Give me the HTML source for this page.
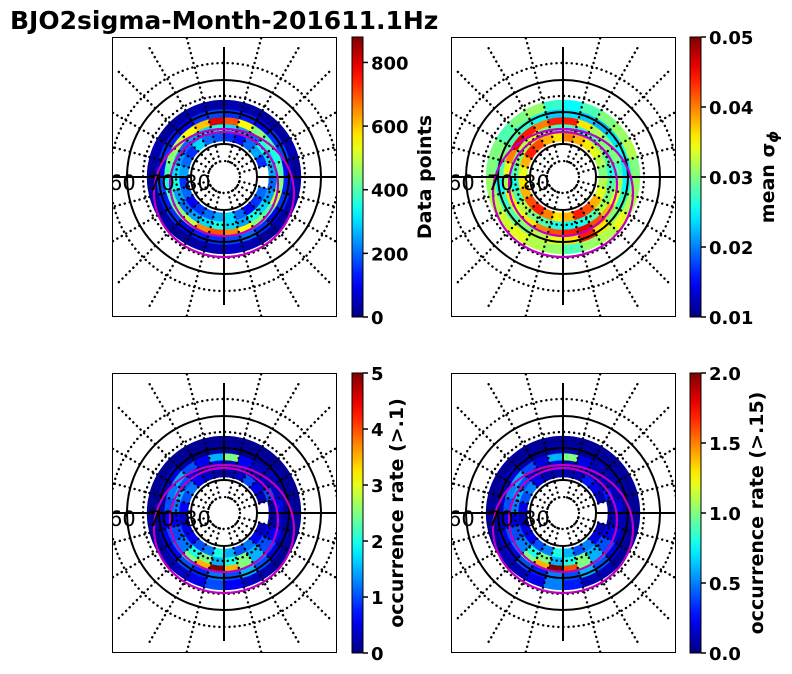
<!DOCTYPE html>
<html><head><meta charset="utf-8">
<style>
html,body{margin:0;padding:0;background:#fff;}
svg{display:block;font-family:"DejaVu Sans","Liberation Sans",sans-serif;}
</style></head>
<body>
<svg id="fig" width="792" height="674" viewBox="0 0 792 674">
<text x="10" y="29" font-size="25" font-weight="bold">BJO2sigma-Month-201611.1Hz</text>
</svg>
<script>
const ringEdges=[36,45,53,60,68,77];
const p1Ring0=[150,120,200,250,150,-1,-1,200,150,100,200,300,250,200,150,100,200,150,250,200,150,300,200,180];
const p1Ring1=[300,250,200,350,300,250,200,250,300,350,250,300,350,300,250,200,250,350,300,250,200,250,300,350];
const p1Ring2=[700,550,450,400,350,400,450,500,400,450,550,650,700,650,500,450,400,350,400,450,500,550,600,800];
const p1Ring3=[150,130,100,150,170,100,130,150,100,150,200,170,150,130,100,150,130,170,100,150,130,100,150,170];
const p1Ring4=[40,30,20,30,40,20,30,40,30,20,40,60,40,30,20,30,40,20,30,40,20,30,40,30];
const p2Ring0=[0.040,0.038,0.036,0.034,0.032,0.030,0.032,0.034,0.038,0.042,0.044,0.038,0.036,0.040,0.044,0.042,0.038,0.036,0.034,0.038,0.044,0.042,0.038,0.036];
const p2Ring1=[0.028,0.026,0.028,0.030,0.028,0.026,0.028,0.030,0.032,0.028,0.026,0.025,0.026,0.028,0.030,0.032,0.028,0.026,0.028,0.030,0.032,0.034,0.030,0.028];
const p2Ring2=[0.044,0.036,0.032,0.030,0.030,0.028,0.032,0.034,0.038,0.042,0.046,0.044,0.042,0.040,0.036,0.034,0.036,0.032,0.034,0.040,0.046,0.044,0.040,0.044];
const p2Ring3=[0.024,0.023,0.022,0.024,0.025,0.024,0.025,0.027,0.030,0.036,0.044,0.036,0.034,0.032,0.030,0.028,0.027,0.025,0.028,0.030,0.028,0.027,0.025,0.023];
const p2Ring4=[0.025,0.028,0.030,0.031,0.032,0.030,0.031,0.032,0.034,0.032,0.031,0.028,0.031,0.032,0.034,0.033,0.032,0.031,0.030,0.030,0.028,0.030,0.031,0.027];
const p3Ring0=[0.2,0.3,1.0,0.5,0.2,-1,-1,0.3,0.6,1.2,1.0,1.5,2.0,1.2,1.0,0.6,0.5,0.3,0.6,1.0,1.2,0.6,0.3,0.2];
const p3Ring1=[0.3,0.6,0.2,0.3,1.0,0.3,0.2,0.5,1.0,1.5,2.5,2.0,1.5,2.5,2.0,1.2,1.0,0.6,1.2,1.5,1.0,0.6,0.3,0.5];
const p3Ring2=[2.5,0.6,0.3,0.2,0.3,0.5,0.3,0.6,1.0,1.5,2.5,3.5,5.0,3.5,2.5,1.2,1.0,0.6,1.0,1.2,1.5,1.0,0.6,1.5];
const p3Ring3=[0.2,0.1,0.2,0.3,0.2,0.1,0.2,0.3,0.5,1.0,1.5,1.0,1.2,0.8,1.0,0.6,0.5,0.3,0.2,0.3,0.5,0.2,0.1,0.2];
const p3Ring4=[0.1,0.1,0.1,0.1,0.1,0.1,0.1,0.1,0.1,0.2,0.3,0.6,1.0,0.5,0.3,0.2,0.1,0.1,0.1,0.1,0.1,0.1,0.1,0.1];
const p4Ring0=[0.1,0.1,0.3,0.2,0.1,-1,-1,0.1,0.2,0.5,0.4,0.6,0.8,0.5,0.4,0.2,0.2,0.1,0.2,0.4,0.5,0.2,0.1,0.1];
const p4Ring1=[0.1,0.2,0.1,0.1,0.3,0.1,0.1,0.2,0.4,0.6,1.0,0.8,0.6,1.0,0.8,0.5,0.4,0.2,0.5,0.6,0.4,0.2,0.1,0.2];
const p4Ring2=[1.0,0.2,0.1,0.1,0.1,0.2,0.1,0.2,0.4,0.6,1.0,1.6,2.0,1.4,1.0,0.5,0.4,0.2,0.4,0.5,0.6,0.4,0.2,0.6];
const p4Ring3=[0.1,0.05,0.1,0.1,0.1,0.05,0.1,0.1,0.2,0.4,0.6,0.4,0.5,0.3,0.4,0.2,0.2,0.1,0.1,0.1,0.2,0.1,0.05,0.1];
const p4Ring4=[0.05,0.05,0.05,0.05,0.05,0.05,0.05,0.05,0.05,0.1,0.1,0.3,0.5,0.2,0.1,0.1,0.05,0.05,0.05,0.05,0.05,0.05,0.05,0.05];
const cb1Ticks=[0,200,400,600,800];
const cb2Ticks=[0.01,0.02,0.03,0.04,0.05];
const cb3Ticks=[0,1,2,3,4,5];
const cb4Ticks=[0.0,0.5,1.0,1.5,2.0];
const cb1Labels=["0","200","400","600","800"];
const cb2Labels=["0.01","0.02","0.03","0.04","0.05"];
const cb3Labels=["0","1","2","3","4","5"];
const cb4Labels=["0.0","0.5","1.0","1.5","2.0"];

const NS="http://www.w3.org/2000/svg";
const fig=document.getElementById('fig');
function el(tag,attrs,parent){const e=document.createElementNS(NS,tag);for(const k in attrs)e.setAttribute(k,attrs[k]);(parent||fig).appendChild(e);return e;}
function jet(t){t=Math.max(0,Math.min(1,t));
  const r=Math.max(0,Math.min(1,1.5-Math.abs(4*t-3)));
  const g=Math.max(0,Math.min(1,1.5-Math.abs(4*t-2)));
  const b=Math.max(0,Math.min(1,1.5-Math.abs(4*t-1)));
  return `rgb(${Math.round(r*255)},${Math.round(g*255)},${Math.round(b*255)})`;}

const panels=[
 {x:112,y:37,rings:[p1Ring0,p1Ring1,p1Ring2,p1Ring3,p1Ring4],vmin:0,vmax:880,ticks:cb1Ticks,labels:cb1Labels,cbx:352,label:"Data points",lx:431,key:'p1'},
 {x:451,y:37,rings:[p2Ring0,p2Ring1,p2Ring2,p2Ring3,p2Ring4],vmin:0.01,vmax:0.05,ticks:cb2Ticks,labels:cb2Labels,cbx:690,label:"mean σ",sub:"ϕ",lx:774,key:'p2'},
 {x:112,y:373,rings:[p3Ring0,p3Ring1,p3Ring2,p3Ring3,p3Ring4],vmin:0,vmax:5,ticks:cb3Ticks,labels:cb3Labels,cbx:352,label:"occurrence rate (>.1)",lx:403,key:'p3'},
 {x:451,y:373,rings:[p4Ring0,p4Ring1,p4Ring2,p4Ring3,p4Ring4],vmin:0,vmax:2,ticks:cb4Ticks,labels:cb4Labels,cbx:690,label:"occurrence rate (>.15)",lx:763,key:'p4'}
];
const W=225,H=280;
function pt(cx,cy,r,a){return [cx+r*Math.sin(a),cy-r*Math.cos(a)];}
panels.forEach((p,pi)=>{
  const g=el('g',{});
  
  
  const cid='clip'+pi;
  const cp=el('clipPath',{id:cid},g);
  el('rect',{x:p.x,y:p.y,width:W,height:H},cp);
  const inner=el('g',{'clip-path':`url(#${cid})`},g);
  const cx=p.x+112,cy=p.y+140;
  const n=24;
  p.rings.forEach((ring,ri)=>{
    ring.forEach((v,si)=>{
      if(v<0)return;
      const r0=ringEdges[ri],r1=ringEdges[ri+1];
      const a0=si*2*Math.PI/n,a1=(si+1)*2*Math.PI/n;
      const A=pt(cx,cy,r0,a0),B=pt(cx,cy,r1,a0),C=pt(cx,cy,r1,a1),D=pt(cx,cy,r0,a1);
      const d=`M${A}L${B}A${r1},${r1} 0 0 1 ${C}L${D}A${r0},${r0} 0 0 0 ${A}Z`;
      const col=jet((v-p.vmin)/(p.vmax-p.vmin));
      const c=el('path',{d:d,fill:col,stroke:col,'stroke-width':0.5},inner);
      
      
    });
  });
  [16,48,81,114].forEach(r=>{const c=el('circle',{cx:cx,cy:cy,r:r,fill:'none',stroke:'#000','stroke-width':2.4,'stroke-dasharray':'0.1 5','stroke-linecap':'round'},inner);
    });
  for(let k=0;k<24;k++){if(k%6===0)continue;const a=k*Math.PI/12;const A=pt(cx,cy,16,a),B=pt(cx,cy,150,a);
    const l=el('line',{x1:A[0],y1:A[1],x2:B[0],y2:B[1],stroke:'#000','stroke-width':2.4,'stroke-dasharray':'0.1 5','stroke-linecap':'round'},inner);
    }
  [33,65,97].forEach(r=>{const c=el('circle',{cx:cx,cy:cy,r:r,fill:'none',stroke:'#000','stroke-width':2},inner);
    });
  let l=el('line',{x1:cx,y1:p.y+10,x2:cx,y2:cy-33,stroke:'#000','stroke-width':2},inner);
  
  l=el('line',{x1:cx,y1:cy+33,x2:cx,y2:p.y+H-12,stroke:'#000','stroke-width':2},inner);
  
  l=el('line',{x1:p.x,y1:cy,x2:cx-33,y2:cy,stroke:'#000','stroke-width':2},inner);
  
  l=el('line',{x1:cx+33,y1:cy,x2:p.x+W,y2:cy,stroke:'#000','stroke-width':2},inner);
  
  let m=el('ellipse',{cx:cx,cy:cy+16,rx:70,ry:64,fill:'none',stroke:'#c000c0','stroke-width':2.2},inner);
  
  m=el('ellipse',{cx:cx,cy:cy+7,rx:54,ry:52,fill:'none',stroke:'#c000c0','stroke-width':2.2},inner);
  
  [["60",p.x-3],["70",p.x+36],["80",p.x+72]].forEach(([t,x])=>{const tx=el('text',{x:x,y:cy+13,'font-size':21},inner);tx.textContent=t;
    });
  const fr=el('rect',{x:p.x+0.5,y:p.y+0.5,width:W-1,height:H-1,fill:'none',stroke:'#000','stroke-width':1},g);
  
  const cg=el('g',{});
  
  
  const gid='grad'+pi;
  const lg=el('linearGradient',{id:gid,x1:0,y1:1,x2:0,y2:0},cg);
  for(let i=0;i<=20;i++)el('stop',{offset:i/20,'stop-color':jet(i/20)},lg);
  el('rect',{x:p.cbx,y:p.y,width:11,height:H,fill:`url(#${gid})`,stroke:'#000','stroke-width':1},cg);
  p.ticks.forEach((t,i)=>{
    const yy=p.y+H-(t-p.vmin)/(p.vmax-p.vmin)*H;
    el('line',{x1:p.cbx+11,y1:yy,x2:p.cbx+16,y2:yy,stroke:'#000','stroke-width':1.5},cg);
    const tx=el('text',{x:p.cbx+19,y:yy+7,'font-size':18,'font-weight':'bold'},cg);
    tx.textContent=p.labels[i];
    
  });
  const lt=el('text',{x:p.lx,y:p.y+H/2,'font-size':19,'font-weight':'bold','text-anchor':'middle',transform:`rotate(-90 ${p.lx} ${p.y+H/2})`},cg);
  lt.textContent=p.label;
  if(p.sub){const ts=el('tspan',{'font-size':15,dy:4,'font-style':'italic'},lt);ts.textContent=p.sub;}
  
});
</script>
</body></html>
